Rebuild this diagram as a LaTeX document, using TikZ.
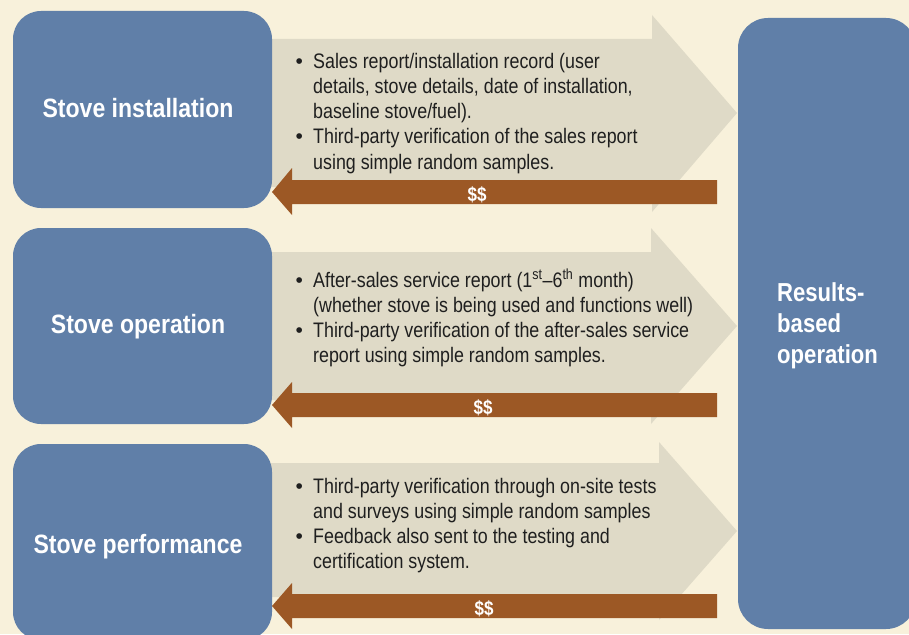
\documentclass[tikz,border=0pt]{standalone}
\usepackage{fontspec}
\setmainfont{Liberation Sans}
\newfontfamily\condfont[FakeStretch=0.85,Ligatures=TeX]{Liberation Sans}
\newfontfamily\titlefont[FakeStretch=0.87,Ligatures=TeX]{Liberation Sans}
\newfontfamily\plainfont{Liberation Sans}
\definecolor{bgcol}{HTML}{F8F1DB}
\definecolor{boxblue}{HTML}{607FA8}
\definecolor{greyarrow}{HTML}{DFDAC7}
\definecolor{brownarrow}{HTML}{9C5825}
\newcommand\bul{\llap{{\plainfont\fontsize{21}{25.3}\selectfont\textbullet}\hspace{10.3pt}}}
\newcommand\blines[1]{{\condfont\fontsize{21}{25.3}\selectfont\begin{tabular}[t]{@{}l@{}}#1\end{tabular}}}
\tikzset{
  bluebox/.style={fill=boxblue, rounded corners=28pt, inner sep=0pt, draw=none},
  titletext/.style={text=white, font=\titlefont\bfseries\fontsize{26.5}{31}\selectfont, inner sep=0pt, anchor=base},
  bodytext/.style={text=black!88, inner sep=0pt, anchor=base west},
  grey/.style={fill=greyarrow},
  brown/.style={fill=brownarrow},
  money/.style={text=white, font=\condfont\bfseries\fontsize{20}{24}\selectfont, inner sep=0pt, anchor=base}
}
\begin{document}
\begin{tikzpicture}[x=1pt,y=-1pt]
\useasboundingbox (0,0) rectangle (909,634);
\fill[bgcol] (0,0) rectangle (909,634);

% grey arrows (towards results)
\fill[grey] (260,39) -- (652,39) -- (652,15) -- (737,113) -- (652,212) -- (652,187) -- (260,187) -- cycle;
\fill[grey] (260,252) -- (651,252) -- (651,228) -- (737,326) -- (651,424) -- (651,400) -- (260,400) -- cycle;
\fill[grey] (260,463) -- (659,463) -- (659,442) -- (737,531) -- (659,620) -- (659,597) -- (260,597) -- cycle;

% boxes
\node[bluebox, minimum width=259pt, minimum height=197pt] (b1) at (142.5,109.5) {};
\node[bluebox, minimum width=259pt, minimum height=196pt] (b2) at (142.5,326) {};
\node[bluebox, minimum width=259pt, minimum height=196pt] (b3) at (142.5,542) {};
\node[bluebox, rounded corners=30pt, minimum width=178pt, minimum height=611pt] (res) at (827,323.5) {};

% brown arrows (payment back)
\fill[brown] (717,180) -- (292,180) -- (292,168) -- (272,192) -- (292,215) -- (292,204) -- (717,204) -- cycle;
\fill[brown] (717,393) -- (292,393) -- (292,382) -- (272,405) -- (292,428) -- (292,417) -- (717,417) -- cycle;
\fill[brown] (717,594) -- (292,594) -- (292,583) -- (272,606) -- (292,629) -- (292,618) -- (717,618) -- cycle;

% titles
\node[titletext] (t1) at (138,117) {Stove installation};
\node[titletext] (t2) at (138,333) {Stove operation};
\node[titletext] (t3) at (138,553) {Stove performance};
\node[text=white, inner sep=0pt, anchor=base west, font=\condfont\bfseries\fontsize{26}{31}\selectfont] (tr) at (777,301)
  {\begin{tabular}[t]{@{}l@{}}Results-\\based\\operation\end{tabular}};

% money labels
\node[money] (m1) at (477,201) {\$\$};
\node[money] (m2) at (483,414) {\$\$};
\node[money] (m3) at (484,615) {\$\$};

% body texts
\node[bodytext] (s1) at (313,68) {\blines{\bul Sales report/installation record (user\\
details, stove details, date of installation,\\
baseline stove/fuel).\\
\bul Third-party verification of the sales report\\
using simple random samples.}};
\node[bodytext] (s2) at (313,287) {\blines{\bul After-sales service report (1\textsuperscript{st}\textendash 6\textsuperscript{th} month)\\
(whether stove is being used and functions well)\\
\bul Third-party verification of the after-sales service\\
report using simple random samples.}};
\node[bodytext] (s3) at (313,493) {\blines{\bul Third-party verification through on-site tests\\
and surveys using simple random samples\\
\bul Feedback also sent to the testing and\\
certification system.}};
\end{tikzpicture}
\end{document}
